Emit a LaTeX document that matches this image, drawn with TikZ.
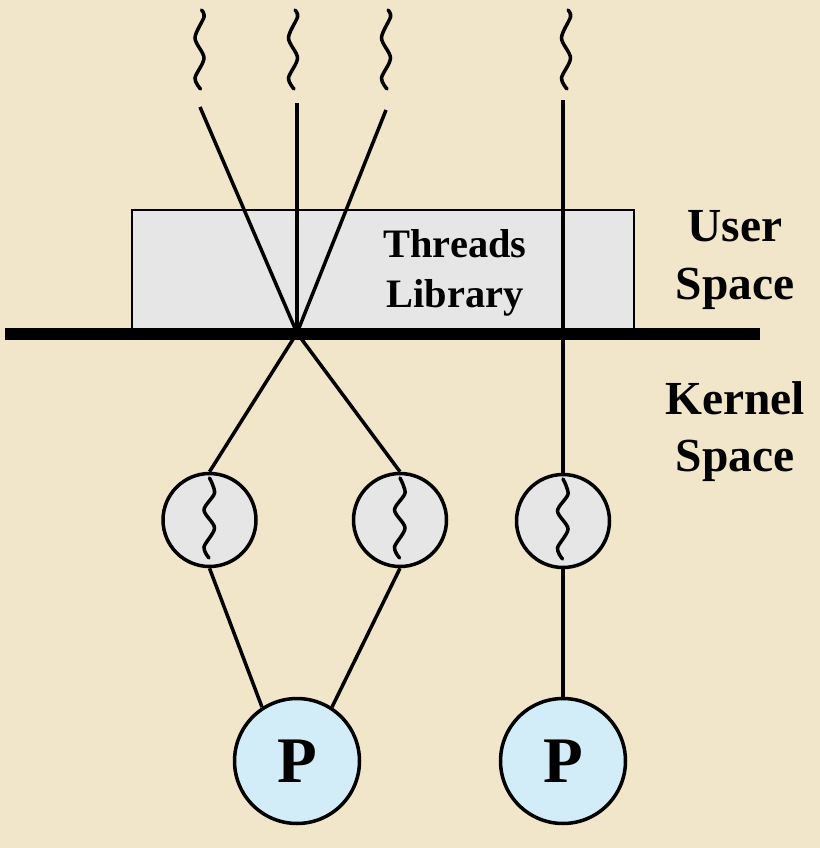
\documentclass[tikz,border=0pt]{standalone}
\usepackage{fontspec}
\setmainfont{Liberation Serif}
\usetikzlibrary{positioning}

\definecolor{parchment}{RGB}{241,230,201}
\definecolor{boxgray}{RGB}{230,230,230}
\definecolor{procblue}{RGB}{210,236,248}

\begin{document}
\begin{tikzpicture}[x=0.02cm,y=-0.02cm,
		every node/.style={font=\bfseries},
		link/.style={line width=2pt},
		wave/.style={line width=2pt,line cap=round},
		libbox/.style={draw,line width=1.3pt,fill=boxgray,minimum width=10.04cm,minimum height=2.48cm},
		kthread/.style={draw,circle,line width=2pt,fill=boxgray,minimum size=1.86cm,inner sep=0pt},
		proc/.style={draw,circle,line width=2pt,fill=procblue,minimum size=2.5cm,inner sep=0pt,
			font=\bfseries\fontsize{37}{37}\selectfont},
		label/.style={align=center,font=\bfseries\fontsize{27}{32.5}\selectfont},
		longwave/.pic={\draw[wave] plot[smooth] coordinates {(2,0) (4.5,7) (-4.5,28) (4.5,48) (-4.5,68) (1,79)};},
		shortwave/.pic={\draw[wave] plot[smooth] coordinates {(0,-42) (5,-27) (-5.5,-10) (5,8) (-5.5,27) (-0.5,38)};},
		]
		
		% Background
		\fill[parchment] (0,0) rectangle (820,848);
		\useasboundingbox (0,0) rectangle (820,848);
		
		% Threads library
		\node[libbox] (lib) at (383,272) {};
		\node[align=center,font=\bfseries\fontsize{23}{28.5}\selectfont] (libtext) at (455,272.5)
		{Threads\\Library};
		
		\node[label] (user) at (735,260) {User\\Space};
		\node[label] (kernel) at (735,432) {Kernel\\Space};
		
		% Boundary
		\draw[line width=6.3pt] (5,334) -- (760,334);
		
		% Kernel threads
		\node[kthread] (k1) at (209.5,520) {};
		\node[kthread] (k2) at (400,520) {};
		\node[kthread] (k3) at (563,521) {};
		
		% Processors
		\node[proc] (p1) at (297,761) {P};
		\node[proc] (p2) at (563,761) {P};
		
		% User threads
		\coordinate (t1) at (200,107);
		\coordinate (t2) at (297,103);
		\coordinate (t3) at (386,110);
		\coordinate (t4) at (563,100);
		\coordinate (j) at (297,333);
		
		\pic at (199.5,10) {longwave};
		\pic at (293,10) {longwave};
		\pic at (386,10) {longwave};
		\pic at (566,10) {longwave};
		
		\pic at (k1) {shortwave};
		\pic at (k2) {shortwave};
		\pic at (k3) {shortwave};
		
		\draw[link] (t1)--(j);
		\draw[link] (t2)--(j);
		\draw[link] (t3)--(j);
		\draw[link] (t4)--(k3.north);
		
		\draw[link] (j)--(k1.north);
		\draw[link] (j)--(k2.north);
		
		\draw[link] (k1.south)--(p1.123);
		\draw[link] (k2.south)--(p1.57);
		\draw[link] (k3.south)--(p2.north);
		
	\end{tikzpicture}
\end{document}
